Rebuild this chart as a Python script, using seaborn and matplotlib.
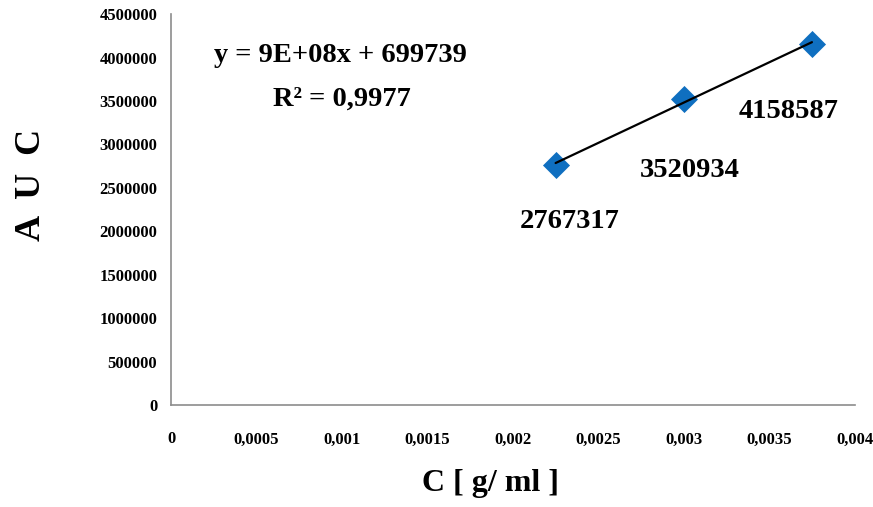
import matplotlib
matplotlib.use("Agg")
import matplotlib.pyplot as plt
import matplotlib.ticker as mticker
import seaborn as sns
import numpy as np
import pandas as pd

conc = [0.00225, 0.003, 0.00375]
auc = [2767317, 3520934, 4158587]
point_labels = ["2767317", "3520934", "4158587"]
label_offsets_px = [(14, -57), (6, -71), (-23, -68)]
equation = "y = 9E+08x + 699739"
r2_text = "R² = 0,9977"

df = pd.DataFrame({"C": conc, "AUC": auc})

sns.set_style("white")
plt.rcParams["font.family"] = ["Liberation Serif", "DejaVu Serif"]
plt.rcParams["font.weight"] = "bold"
plt.rcParams["text.color"] = "black"
plt.rcParams["axes.labelcolor"] = "black"
plt.rcParams["xtick.color"] = "black"
plt.rcParams["ytick.color"] = "black"

fig = plt.figure(figsize=(8.73, 5.07), dpi=100)
ax = fig.add_axes([0.196, 0.201, 0.783, 0.771])

sns.scatterplot(data=df, x="C", y="AUC", ax=ax, marker="D", s=190,
                color="#0F6FC0", edgecolor="#0F6FC0", linewidth=0, zorder=2)
sns.regplot(data=df, x="C", y="AUC", ax=ax, ci=None, scatter=False,
            line_kws={"color": "black", "linewidth": 1.6, "zorder": 3})

for xv, yv, lab, (dx, dy) in zip(conc, auc, point_labels, label_offsets_px):
    ax.annotate(lab, (xv, yv), xytext=(dx * 0.72, dy * 0.72), textcoords="offset points",
                ha="center", va="center", fontsize=20.5, fontweight="bold", color="black")

ax.set_xlim(0, 0.004)
ax.set_ylim(0, 4500000)
ax.set_xticks(np.arange(0, 0.00401, 0.0005))
ax.set_yticks(np.arange(0, 4500001, 500000))

def xfmt(v, pos):
    s = ("%.4f" % v).rstrip("0").rstrip(".")
    return s.replace(".", ",")

ax.xaxis.set_major_formatter(mticker.FuncFormatter(xfmt))
ax.yaxis.set_major_formatter(mticker.FuncFormatter(lambda v, p: "%d" % v))
ax.tick_params(axis="both", length=0, labelsize=12, colors="black")
ax.tick_params(axis="x", pad=19)
ax.tick_params(axis="y", pad=10)
for lab in ax.get_xticklabels() + ax.get_yticklabels():
    lab.set_fontweight("bold")

for s in ["top", "right"]:
    ax.spines[s].set_visible(False)
for s in ["left", "bottom"]:
    ax.spines[s].set_color("#8C8C8C")
    ax.spines[s].set_linewidth(1.2)

ax.set_xlabel("")
ax.set_ylabel("")
fig.text(491 / 873, 1 - 484 / 507, "C [ g/ ml ]", ha="center", va="center",
         fontsize=23, fontweight="bold")
fig.text(31 / 873, 1 - 185 / 507, "A  U  C", ha="center", va="center", rotation=90,
         fontsize=26, fontweight="bold")

fig.text(340 / 873, 1 - 56 / 507, equation, ha="center", va="center",
         fontsize=20.5, fontweight="bold")
fig.text(342 / 873, 1 - 99 / 507, r2_text, ha="center", va="center",
         fontsize=20.5, fontweight="bold")

fig.savefig("out.png", dpi=100)
